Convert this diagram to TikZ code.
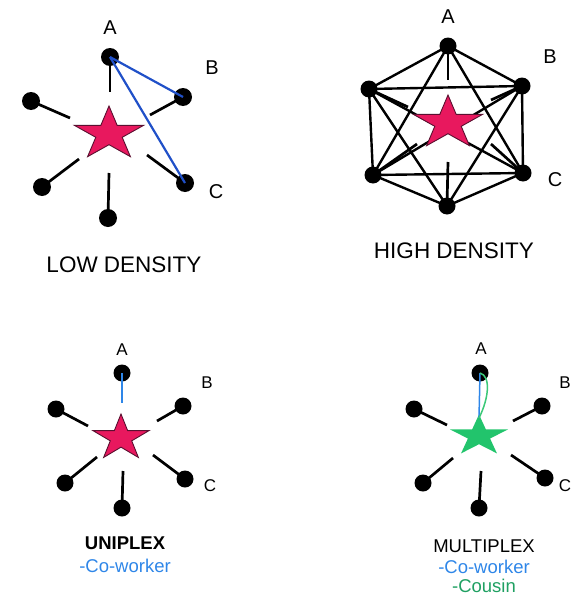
\documentclass[tikz,border=0pt]{standalone}
\usepackage{fontspec}
\setmainfont{Liberation Sans}
\definecolor{starpink}{HTML}{E8185E}
\definecolor{staredge}{HTML}{5A1030}
\definecolor{stargreen}{HTML}{22C46C}
\definecolor{linkblue}{HTML}{2050C8}
\definecolor{tieblue}{HTML}{2E86E8}
\definecolor{tiegreen}{HTML}{3BC878}
\definecolor{textgreen}{HTML}{1FA062}
\begin{document}
\begin{tikzpicture}[x=1pt,y=-1pt,
  dotA/.style={circle,fill=black,inner sep=0pt,minimum size=18pt},
  dotB/.style={circle,fill=black,inner sep=0pt,minimum size=17pt},
  spoke/.style={line width=2.7pt},
  edge/.style={line width=2.4pt},
  bluelink/.style={linkblue,line width=2.2pt},
  toplabel/.style={font=\fontsize{20}{23}\selectfont},
  lowlabel/.style={font=\fontsize{17}{20}\selectfont},
  title/.style={font=\fontsize{22.5}{26}\selectfont},
  caption/.style={font=\fontsize{18.5}{22}\selectfont},
  pics/starshape/.style={code={
    \path[pic actions] (270:1)--(306:0.382)--(342:1)--(18:0.382)--(54:1)
      --(90:0.382)--(126:1)--(162:0.382)--(198:1)--(234:0.382)--cycle;}},
  pinkstar/.style={fill=starpink,draw=staredge,line width=0.9pt,line join=miter},
  greenstar/.style={fill=stargreen}
]
\useasboundingbox (0,0) rectangle (573,597);

% ---------- low density ----------
\pic[pinkstar,scale=28,xscale=1.3] at (109,134) {starshape};
\node[dotA] (a1) at (110,57) {};
\node[dotA] (b1) at (183,97) {};
\node[dotA] (c1) at (185,183) {};
\node[dotA] (d1) at (108,218) {};
\node[dotA] (e1) at (42,187) {};
\node[dotA] (f1) at (31,101) {};
\coordinate (a1s) at (110,92);
\coordinate (b1s) at (150,115);
\coordinate (c1s) at (147,155);
\coordinate (d1s) at (109,173);
\coordinate (e1s) at (79,159);
\coordinate (f1s) at (70,118);
\foreach \n in {a1,b1,c1,d1,e1,f1} \draw[spoke] (\n.center) -- (\n s);
\draw[bluelink] (a1.center) -- (b1.center);
\draw[bluelink] (a1.center) -- (c1.center);
\node[toplabel] (la1) at (110,28) {A};
\node[toplabel] (lb1) at (212,68) {B};
\node[toplabel] (lc1) at (216,192) {C};
\node[title] (t1) at (124,265) {LOW DENSITY};

% ---------- high density ----------
\node[dotB] (a2) at (448,46) {};
\node[dotB] (b2) at (522,86) {};
\node[dotB] (c2) at (523,173) {};
\node[dotB] (d2) at (447,206) {};
\node[dotB] (e2) at (373,175) {};
\node[dotB] (f2) at (369,89) {};
\coordinate (a2s) at (448,80);
\coordinate (b2s) at (491,100);
\coordinate (c2s) at (491,144);
\coordinate (d2s) at (448,162);
\coordinate (e2s) at (417,144);
\coordinate (f2s) at (408,107);
\foreach \n in {a2,b2,c2,d2,e2,f2} \draw[spoke] (\n.center) -- (\n s);
\foreach \p/\q in {a2/f2,a2/b2,a2/e2,a2/c2,d2/e2,d2/c2,d2/f2,d2/b2,
                   f2/b2,e2/c2,f2/e2,b2/c2,f2/c2,e2/b2}
  \draw[edge] (\p.center) -- (\q.center);
% the star sits on top of the crossing ties
\pic[pinkstar,scale=28,xscale=1.3] at (448,123) {starshape};
\node[toplabel] (la2) at (448,17) {A};
\node[toplabel] (lb2) at (550,57) {B};
\node[toplabel] (lc2) at (555,180) {C};
\node[title] (t2) at (454,251) {HIGH DENSITY};

% ---------- uniplex ----------
\pic[pinkstar,scale=24,xscale=1.23] at (121,438) {starshape};
\node[dotB] (a3) at (122,373) {};
\node[dotB] (b3) at (183,406) {};
\node[dotB] (c3) at (185,479) {};
\node[dotB] (d3) at (122,508) {};
\node[dotB] (e3) at (65,483) {};
\node[dotB] (f3) at (56,409) {};
\coordinate (a3s) at (122,403);
\coordinate (b3s) at (157,421);
\coordinate (c3s) at (153,455);
\coordinate (d3s) at (123,471);
\coordinate (e3s) at (97,457);
\coordinate (f3s) at (88,426);
\foreach \n in {b3,c3,d3,e3,f3} \draw[spoke] (\n.center) -- (\n s);
\draw[tieblue,line width=1.5pt] (a3.center) -- (a3s);
\node[lowlabel] (la3) at (122,350) {A};
\node[lowlabel] (lb3) at (207,383) {B};
\node[lowlabel] (lc3) at (210,486) {C};
\node[caption,font=\fontsize{18.5}{22}\selectfont\bfseries] (t3) at (125,543) {UNIPLEX};
\node[caption,text=tieblue] (s3) at (125,566) {-Co-worker};

% ---------- multiplex ----------
\pic[greenstar,scale=21.5,xscale=1.42] at (479,436) {starshape};
\node[dotB] (a4) at (480,373) {};
\node[dotB] (b4) at (542,406) {};
\node[dotB] (c4) at (545,478) {};
\node[dotB] (d4) at (479,508) {};
\node[dotB] (e4) at (423,483) {};
\node[dotB] (f4) at (414,409) {};
\coordinate (a4s) at (479,418);
\coordinate (b4s) at (513,421);
\coordinate (c4s) at (511,455);
\coordinate (d4s) at (481,471);
\coordinate (e4s) at (453,458);
\coordinate (f4s) at (447,425);
\foreach \n in {b4,c4,d4,e4,f4} \draw[spoke] (\n.center) -- (\n s);
\draw[tieblue,line width=1.5pt] (a4.center) -- (a4s);
\draw[tiegreen,line width=1.5pt] (a4.center) .. controls (491,376) and (489,398) .. (a4s);
\node[lowlabel] (la4) at (481,349) {A};
\node[lowlabel] (lb4) at (565,383) {B};
\node[lowlabel] (lc4) at (565,486) {C};
\node[caption] (t4) at (484,546) {MULTIPLEX};
\node[caption,text=tieblue] (s4) at (484,567) {-Co-worker};
\node[caption,text=textgreen] (u4) at (484,586) {-Cousin};
\end{tikzpicture}
\end{document}
